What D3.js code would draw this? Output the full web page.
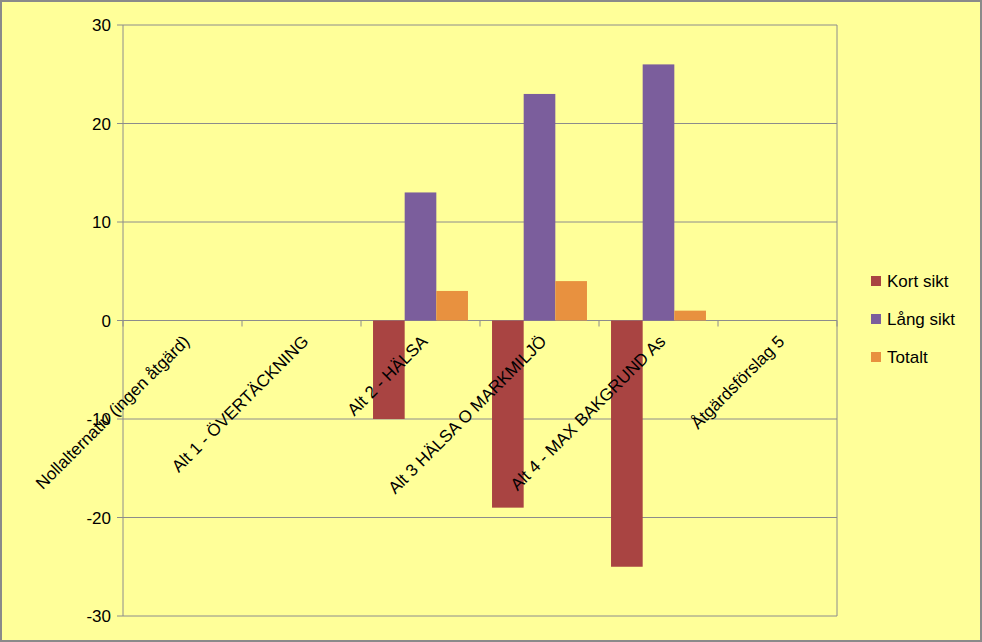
<!DOCTYPE html>
<html><head><meta charset="utf-8">
<script src="https://cdn.jsdelivr.net/npm/d3@7"></script>
<style>body{margin:0;background:#fff}</style>
</head><body>
<div id="container"></div>
<script>
// data
const categories = ["Nollalternativ (ingen åtgärd)", "Alt 1 - ÖVERTÄCKNING", "Alt 2 - HÄLSA",
  "Alt 3  HÄLSA O MARKMILJÖ", "Alt 4 - MAX BAKGRUND As", "Åtgärdsförslag 5"];
const seriesNames = ["Kort sikt", "Lång sikt", "Totalt"];
const kortSikt = [0, 0, -10, -19, -25, 0];
const langSikt = [0, 0, 13, 23, 26, 0];
const totalt = [0, 0, 3, 4, 1, 0];
const yTicks = [-30, -20, -10, 0, 10, 20, 30];
const colors = ["#A94442", "#7B5E9C", "#E8913F"];

const W = 982, H = 642;
const plot = {left: 123, right: 837, top: 25, bottom: 616};

const svg = d3.select("#container").append("svg")
  .attr("width", W).attr("height", H);

svg.append("rect").attr("x", 1).attr("y", 1).attr("width", W - 2).attr("height", H - 2)
  .attr("fill", "#FFFF99").attr("stroke", "#8a8a8a").attr("stroke-width", 2);

const x0 = d3.scaleBand().domain(categories).range([plot.left, plot.right]);
const x1 = d3.scaleBand().domain(seriesNames).range([0, x0.bandwidth()]).paddingOuter(0.38);
const y = d3.scaleLinear().domain([-30, 30]).range([plot.bottom, plot.top]);

// gridlines
svg.append("g").selectAll("line").data(yTicks).join("line")
  .attr("x1", plot.left - 6).attr("x2", plot.right)
  .attr("y1", d => y(d)).attr("y2", d => y(d))
  .attr("stroke", "#8c8c8c").attr("stroke-width", 1);

// y axis line
svg.append("line").attr("x1", plot.left).attr("x2", plot.left)
  .attr("y1", plot.top).attr("y2", plot.bottom).attr("stroke", "#8c8c8c");
svg.append("line").attr("x1", plot.right).attr("x2", plot.right)
  .attr("y1", plot.top).attr("y2", plot.bottom).attr("stroke", "#8c8c8c");

svg.append("g").selectAll("text").data(yTicks).join("text")
  .attr("x", plot.left - 12).attr("y", d => y(d) + 6)
  .attr("text-anchor", "end")
  .style("font-family", "Liberation Sans, Arial").style("font-size", "17px")
  .text(d => d);

// category ticks on zero line
const tickXs = categories.map(c => x0(c)).concat([plot.right]);
svg.append("g").selectAll("line").data(tickXs).join("line")
  .attr("x1", d => d).attr("x2", d => d)
  .attr("y1", y(0)).attr("y2", y(0) + 6).attr("stroke", "#8c8c8c");

const series = [kortSikt, langSikt, totalt];
seriesNames.forEach((s, i) => {
  svg.append("g").selectAll("rect").data(categories).join("rect")
    .attr("x", c => x0(c) + x1(s))
    .attr("width", x1.bandwidth())
    .attr("y", (c, j) => y(Math.max(0, series[i][j])))
    .attr("height", (c, j) => Math.abs(y(series[i][j]) - y(0)))
    .attr("fill", colors[i]);
});

// category labels
svg.append("g").selectAll("text").data(categories).join("text")
  .attr("transform", c => `translate(${x0(c) + x0.bandwidth() / 2 + 8},${y(0) + 22}) rotate(-45)`)
  .attr("text-anchor", "end")
  .style("font-family", "Liberation Sans, Arial").style("font-size", "17px")
  .text(c => c);

// legend
const lg = svg.append("g").selectAll("g").data(seriesNames).join("g")
  .attr("transform", (d, i) => `translate(871,${282 + i * 38})`);
lg.append("rect").attr("x", 0).attr("y", -6).attr("width", 10).attr("height", 10)
  .attr("fill", (d, i) => colors[i]);
lg.append("text").attr("x", 16).attr("y", 5)
  .style("font-family", "Liberation Sans, Arial").style("font-size", "17px")
  .text(d => d);
</script>
</body></html>
